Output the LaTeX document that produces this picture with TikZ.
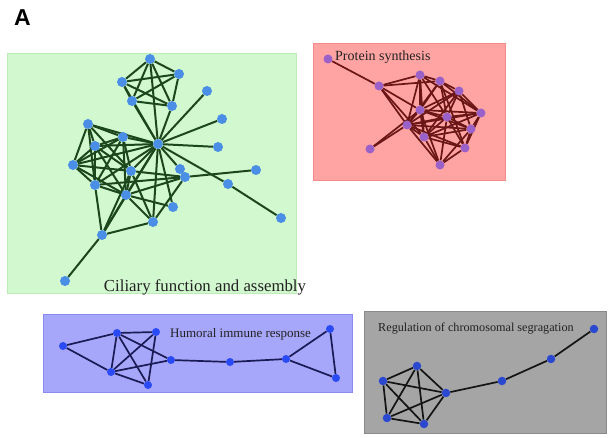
\documentclass[tikz,border=0pt]{standalone}
\usepackage{fontspec}
\setmainfont{Liberation Serif}
\newfontfamily\labsans{Liberation Sans}
\pgfdeclarelayer{boxes}\pgfdeclarelayer{edges}
\pgfsetlayers{boxes,edges,main}
\definecolor{gbox}{HTML}{D2F8CF}
\definecolor{gboxl}{HTML}{BCEBB6}
\definecolor{rbox}{HTML}{FFA3A3}
\definecolor{rboxl}{HTML}{F28A8A}
\definecolor{bbox}{HTML}{A6A6FA}
\definecolor{bboxl}{HTML}{8A8AF0}
\definecolor{kbox}{HTML}{A5A5A5}
\definecolor{kboxl}{HTML}{8A8A8A}
\definecolor{gnode}{HTML}{4A8EE6}
\definecolor{gedge}{HTML}{1C471C}
\definecolor{rnode}{HTML}{9A62C8}
\definecolor{redge}{HTML}{6A1616}
\definecolor{bnode}{HTML}{2A4AF5}
\definecolor{bedge}{HTML}{1A1A55}
\definecolor{knode}{HTML}{2A48D0}
\definecolor{kedge}{HTML}{141414}
\definecolor{txt}{HTML}{222222}
\begin{document}
\begin{tikzpicture}[x=1pt,y=-1pt,
  gn/.style={circle,fill=gnode,inner sep=0pt,minimum size=10pt},
  rn/.style={circle,fill=rnode,inner sep=0pt,minimum size=9pt},
  bn/.style={circle,fill=bnode,inner sep=0pt,minimum size=8pt},
  kn/.style={circle,fill=knode,inner sep=0pt,minimum size=8.5pt},
  ge/.style={draw=gedge,line width=2pt},
  re/.style={draw=redge,line width=1.7pt},
  be/.style={draw=bedge,line width=1.7pt},
  ke/.style={draw=kedge,line width=1.7pt},
  lab/.style={inner sep=0pt,text=txt}]
\useasboundingbox (0,0) rectangle (608,438);
\node[lab,font=\labsans\bfseries\fontsize{23}{23}\selectfont,text=black] (A) at (22.5,18) {A};
% boxes
\begin{pgfonlayer}{boxes}
\fill[white] (0,0) rectangle (608,438);
\filldraw[fill=gbox,draw=gboxl,line width=0.8pt] (7,53) rectangle (296,293);
\filldraw[fill=rbox,draw=rboxl,line width=0.8pt] (313,43) rectangle (505,180);
\filldraw[fill=bbox,draw=bboxl,line width=0.8pt] (43,314) rectangle (352,392);
\filldraw[fill=kbox,draw=kboxl,line width=0.8pt] (364,311) rectangle (606,433);
\end{pgfonlayer}
% green cluster
\node[gn] (g1) at (150,59) {};
\node[gn] (g2) at (179,74) {};
\node[gn] (g3) at (122,82) {};
\node[gn] (g4) at (132,101) {};
\node[gn] (g5) at (172,106) {};
\node[gn] (g6) at (207,91) {};
\node[gn] (g7) at (222,119) {};
\node[gn] (hub) at (158,144) {};
\node[gn] (g8) at (218,147) {};
\node[gn] (g9) at (88,124) {};
\node[gn] (g10) at (123,137) {};
\node[gn] (g11) at (95,146) {};
\node[gn] (g12) at (73,165) {};
\node[gn] (g13) at (131,171) {};
\node[gn] (g14) at (180,169) {};
\node[gn] (g15) at (185,177) {};
\node[gn] (g16) at (256,170) {};
\node[gn] (g17) at (228,184) {};
\node[gn] (g18) at (95,185) {};
\node[gn] (g19) at (126,195) {};
\node[gn] (g20) at (173,207) {};
\node[gn] (g21) at (153,222) {};
\node[gn] (g22) at (102,235) {};
\node[gn] (g23) at (281,218) {};
\node[gn] (g24) at (65,281) {};
\begin{pgfonlayer}{edges}
\foreach \a/\b in {g1/g2,g1/g3,g1/g4,g1/g5,g2/g3,g2/g4,g2/g5,g3/g4,g3/g5,g4/g5,
  hub/g1,hub/g3,hub/g4,hub/g5,hub/g6,hub/g7,hub/g8,hub/g17,hub/g14,hub/g9,hub/g10,
  hub/g11,hub/g12,hub/g13,hub/g18,hub/g19,hub/g20,hub/g21,hub/g22,g17/g23,g15/g16,
  g9/g10,g9/g11,g9/g12,g9/g18,g9/g13,g10/g11,g10/g12,g10/g18,g10/g19,g10/g13,
  g11/g12,g11/g18,g11/g19,g11/g13,g12/g18,g12/g19,g12/g13,g18/g19,g18/g22,
  g13/g19,g13/g15,g18/g15,g19/g15,g19/g20,g19/g21,g19/g22,g21/g22,g21/g15,
  g22/g13,g13/g21,g22/g24}
  \draw[ge] (\a) -- (\b);
\end{pgfonlayer}
\node[lab,font=\fontsize{16.8}{18}\selectfont] (lg) at (205,287) {Ciliary function and assembly};
% red cluster
\node[rn] (r1) at (328,59) {};
\node[rn] (r2) at (379,86) {};
\node[rn] (r3) at (420,75) {};
\node[rn] (r4) at (440,81) {};
\node[rn] (r5) at (459,91) {};
\node[rn] (r6) at (420,110) {};
\node[rn] (r7) at (447,117) {};
\node[rn] (r8) at (481,113) {};
\node[rn] (r9) at (407,125) {};
\node[rn] (r10) at (471,129) {};
\node[rn] (r11) at (424,137) {};
\node[rn] (r12) at (465,148) {};
\node[rn] (r13) at (370,149) {};
\node[rn] (r14) at (440,165) {};
\begin{pgfonlayer}{edges}
\foreach \a/\b in {r1/r2,r2/r3,r2/r4,r2/r9,r2/r11,r2/r6,r13/r9,r13/r6,
  r3/r4,r3/r6,r3/r9,r3/r7,r3/r8,r3/r11,
  r4/r5,r4/r6,r4/r7,r4/r8,r4/r9,r4/r12,
  r5/r6,r5/r7,r5/r8,r5/r10,r5/r9,r5/r11,
  r6/r7,r6/r8,r6/r9,r6/r11,r6/r14,r6/r10,
  r7/r8,r7/r9,r7/r10,r7/r11,r7/r12,r7/r14,
  r8/r9,r8/r10,r8/r12,r8/r11,
  r9/r10,r9/r11,r9/r12,r9/r14,
  r10/r11,r10/r12,r10/r14,r11/r12,r11/r14,r12/r14}
  \draw[re] (\a) -- (\b);
\end{pgfonlayer}
\node[lab,anchor=west,font=\fontsize{14}{16}\selectfont] (lr) at (335,57.5) {Protein synthesis};
% humoral
\node[bn] (h1) at (63,346) {};
\node[bn] (h2) at (117,333) {};
\node[bn] (h3) at (156,332) {};
\node[bn] (h4) at (111,372) {};
\node[bn] (h5) at (148,385) {};
\node[bn] (h6) at (171,360) {};
\node[bn] (h7) at (230,362) {};
\node[bn] (h8) at (286,359) {};
\node[bn] (h9) at (330,329) {};
\node[bn] (h10) at (336,378) {};
\begin{pgfonlayer}{edges}
\foreach \a/\b in {h1/h2,h1/h4,h2/h3,h2/h4,h2/h5,h2/h6,h3/h4,h3/h5,h4/h5,h4/h6,
  h6/h7,h7/h8,h8/h9,h8/h10,h9/h10}
  \draw[be] (\a) -- (\b);
\end{pgfonlayer}
\node[lab,anchor=west,font=\fontsize{13}{15}\selectfont] (lb) at (170,334) {Humoral immune response};
% chromosomal
\node[kn] (c1) at (417,366) {};
\node[kn] (c2) at (383,381) {};
\node[kn] (c3) at (446,393) {};
\node[kn] (c4) at (387,418) {};
\node[kn] (c5) at (424,424) {};
\node[kn] (c6) at (502,381) {};
\node[kn] (c7) at (551,359) {};
\node[kn] (c8) at (594,329) {};
\begin{pgfonlayer}{edges}
\foreach \a/\b in {c1/c2,c1/c3,c1/c4,c1/c5,c2/c3,c2/c4,c2/c5,c3/c4,c3/c5,c4/c5,
  c3/c6,c6/c7,c7/c8}
  \draw[ke] (\a) -- (\b);
\end{pgfonlayer}
\node[lab,anchor=west,font=\fontsize{12.2}{14}\selectfont] (lk) at (378,329) {Regulation of chromosomal segragation};
\end{tikzpicture}
\end{document}
